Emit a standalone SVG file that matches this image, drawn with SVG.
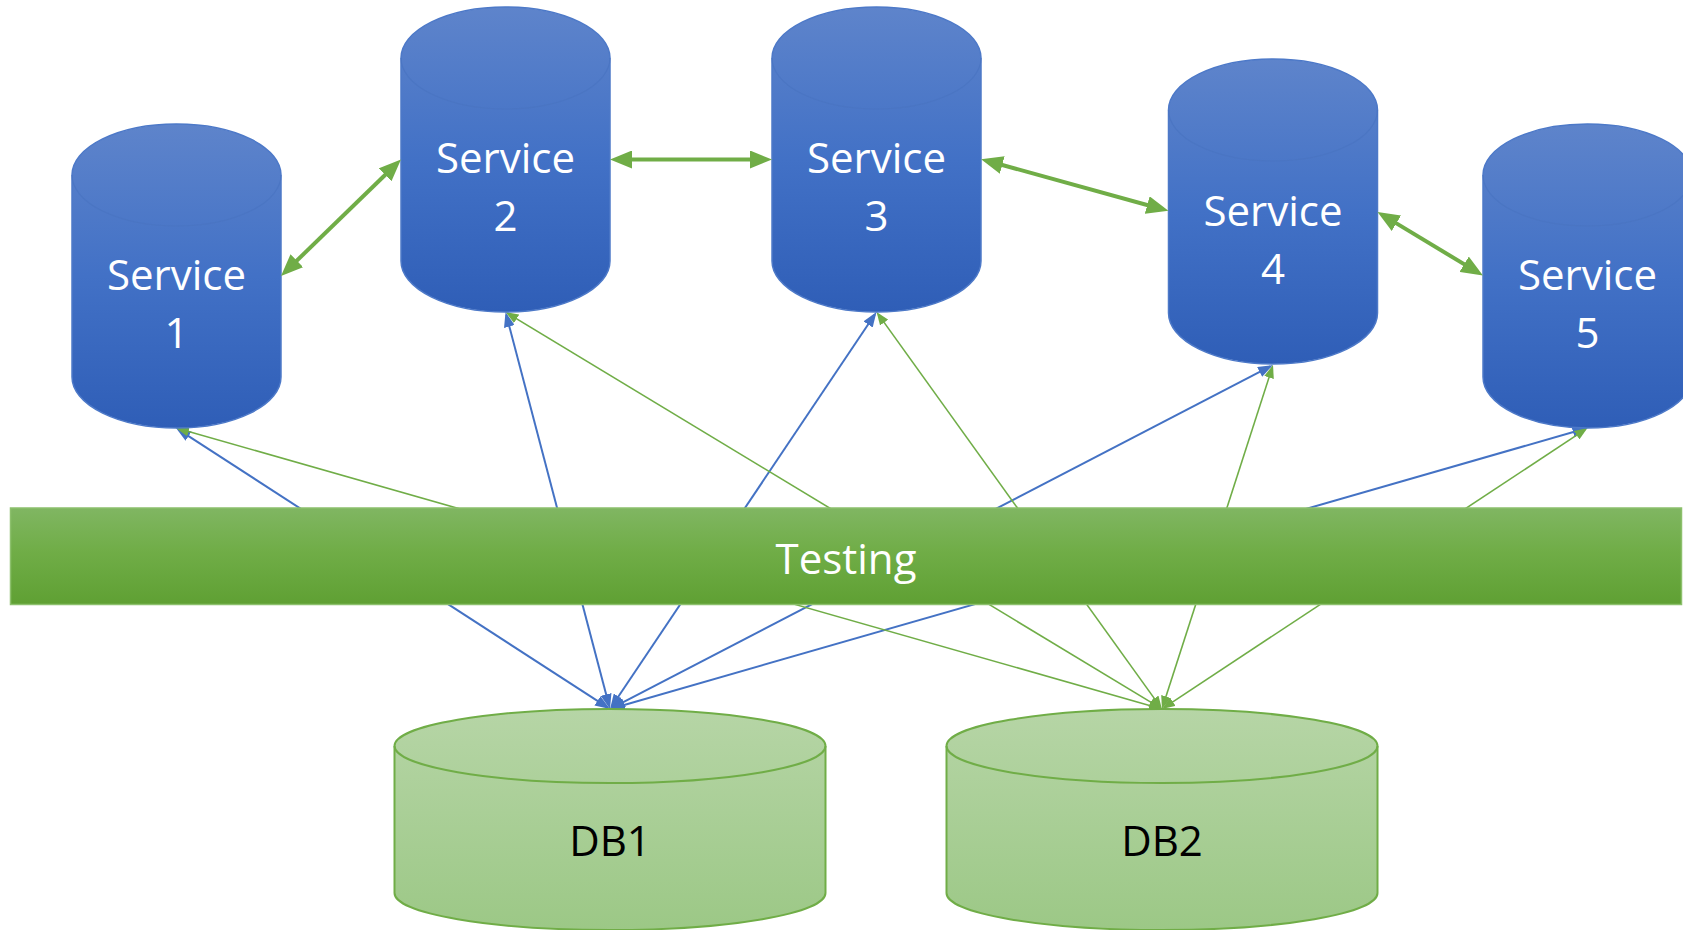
<svg xmlns="http://www.w3.org/2000/svg" width="1683" height="930" viewBox="0 0 1683 930">
  <defs>
    <linearGradient id="gSvc" x1="0" y1="0" x2="0" y2="1">
      <stop offset="0" stop-color="#5e84cb"/>
      <stop offset="0.5" stop-color="#4271c6"/>
      <stop offset="1" stop-color="#2f5eb7"/>
    </linearGradient>
    <linearGradient id="gDb" x1="0" y1="0" x2="0" y2="1">
      <stop offset="0" stop-color="#b6d5a6"/>
      <stop offset="1" stop-color="#9cc886"/>
    </linearGradient>
    <linearGradient id="gBar" x1="0" y1="0" x2="0" y2="1">
      <stop offset="0" stop-color="#80b662"/>
      <stop offset="0.45" stop-color="#70ad47"/>
      <stop offset="1" stop-color="#5fa033"/>
    </linearGradient>
    <marker id="headThick" markerUnits="userSpaceOnUse" markerWidth="22" markerHeight="18" viewBox="0 0 22 18" refX="12" refY="9" orient="auto-start-reverse">
      <path d="M0,0 L22,9 L0,18 Z" fill="#70ad47"/>
    </marker>
    <marker id="headBlue" markerUnits="userSpaceOnUse" markerWidth="15" markerHeight="11" viewBox="0 0 15 11" refX="12" refY="5.5" orient="auto-start-reverse">
      <path d="M0,0 L15,5.5 L0,11 Z" fill="#4472c4"/>
    </marker>
    <marker id="headGreen" markerUnits="userSpaceOnUse" markerWidth="13" markerHeight="10" viewBox="0 0 13 10" refX="10" refY="5" orient="auto-start-reverse">
      <path d="M0,0 L13,5 L0,10 Z" fill="#70ad47"/>
    </marker>
  </defs>
  <style>
    .svc-body { fill: url(#gSvc); stroke: #4d79c8; stroke-width: 1.5; }
    .svc-rim { fill: none; stroke: #4a74c2; stroke-width: 1.2; opacity: 0.8; }
    .db-body { fill: url(#gDb); stroke: #70ad47; stroke-width: 2; }
    .db-rim { fill: none; stroke: #70ad47; stroke-width: 2; }
    .bar { fill: url(#gBar); stroke: #8cc06c; stroke-width: 1.5; }
    .lbl { font-family: "Open Sans", "Liberation Sans", sans-serif; font-size: 42px; text-anchor: middle; }
    .lbl-w { fill: #ffffff; }
    .lbl-k { fill: #000000; }
    .link-blue { stroke: #4472c4; stroke-width: 2; fill: none; marker-start: url(#headBlue); marker-end: url(#headBlue); }
    .link-green { stroke: #70ad47; stroke-width: 1.6; fill: none; marker-start: url(#headGreen); marker-end: url(#headGreen); }
    .link-peer { stroke: #70ad47; stroke-width: 4; fill: none; marker-start: url(#headThick); marker-end: url(#headThick); }
  </style>

  <!-- connectors -->
  <g id="connectors">
    <!-- DB1 to each service -->
    <line class="link-blue" x1="607.5" y1="707.4" x2="178.5" y2="429.6"/>
    <line class="link-blue" x1="609.2" y1="706.1" x2="506.3" y2="314.9"/>
    <line class="link-blue" x1="611.7" y1="706.5" x2="874.8" y2="314.5"/>
    <line class="link-blue" x1="612.7" y1="707.6" x2="1270.3" y2="366.4"/>
    <line class="link-blue" x1="612.9" y1="708.2" x2="1584.6" y2="428.8"/>
    <!-- DB2 to each service -->
    <line class="link-green" x1="1159.1" y1="708.2" x2="178.9" y2="428.8"/>
    <line class="link-green" x1="1159.4" y1="707.4" x2="508.1" y2="313.6"/>
    <line class="link-green" x1="1160.2" y1="706.6" x2="878.3" y2="314.4"/>
    <line class="link-green" x1="1162.9" y1="706.1" x2="1272.1" y2="367.9"/>
    <line class="link-green" x1="1164.5" y1="707.3" x2="1585.0" y2="429.7"/>
  </g>

  <!-- services -->
  <g id="service1">
    <path class="svc-body" d="M72,175 L72,377 A104.5,51 0 0 0 281,377 L281,175 A104.5,51 0 0 0 72,175 Z"/>
    <path class="svc-rim" d="M72,175 A104.5,51 0 0 0 281,175"/>
    <text class="lbl lbl-w" x="176.5" y="290">Service</text>
    <text class="lbl lbl-w" x="176.5" y="348">1</text>
  </g>
  <g id="service2">
    <path class="svc-body" d="M401,58 L401,261 A104.5,51 0 0 0 610,261 L610,58 A104.5,51 0 0 0 401,58 Z"/>
    <path class="svc-rim" d="M401,58 A104.5,51 0 0 0 610,58"/>
    <text class="lbl lbl-w" x="505.5" y="173">Service</text>
    <text class="lbl lbl-w" x="505.5" y="231">2</text>
  </g>
  <g id="service3">
    <path class="svc-body" d="M772,58 L772,261 A104.5,51 0 0 0 981,261 L981,58 A104.5,51 0 0 0 772,58 Z"/>
    <path class="svc-rim" d="M772,58 A104.5,51 0 0 0 981,58"/>
    <text class="lbl lbl-w" x="876.5" y="173">Service</text>
    <text class="lbl lbl-w" x="876.5" y="231">3</text>
  </g>
  <g id="service4">
    <path class="svc-body" d="M1168.5,110 L1168.5,313 A104.5,51 0 0 0 1377.5,313 L1377.5,110 A104.5,51 0 0 0 1168.5,110 Z"/>
    <path class="svc-rim" d="M1168.5,110 A104.5,51 0 0 0 1377.5,110"/>
    <text class="lbl lbl-w" x="1273" y="225.5">Service</text>
    <text class="lbl lbl-w" x="1273" y="283.5">4</text>
  </g>
  <g id="service5">
    <path class="svc-body" d="M1483,175 L1483,377 A104.5,51 0 0 0 1692,377 L1692,175 A104.5,51 0 0 0 1483,175 Z"/>
    <path class="svc-rim" d="M1483,175 A104.5,51 0 0 0 1692,175"/>
    <text class="lbl lbl-w" x="1587.5" y="290">Service</text>
    <text class="lbl lbl-w" x="1587.5" y="348">5</text>
  </g>

  <!-- testing layer -->
  <g id="testing">
    <rect class="bar" x="10.5" y="508" width="1671" height="96.5"/>
    <text class="lbl lbl-w" x="846" y="574">Testing</text>
  </g>

  <!-- databases -->
  <g id="db1">
    <path class="db-body" d="M394.5,746 L394.5,893 A215.5,37 0 0 0 825.5,893 L825.5,746 A215.5,37 0 0 0 394.5,746 Z"/>
    <path class="db-rim" d="M394.5,746 A215.5,37 0 0 0 825.5,746"/>
    <text class="lbl lbl-k" x="610" y="856">DB1</text>
  </g>
  <g id="db2">
    <path class="db-body" d="M946.5,746 L946.5,893 A215.5,37 0 0 0 1377.5,893 L1377.5,746 A215.5,37 0 0 0 946.5,746 Z"/>
    <path class="db-rim" d="M946.5,746 A215.5,37 0 0 0 1377.5,746"/>
    <text class="lbl lbl-k" x="1162" y="856">DB2</text>
  </g>

  <!-- peer links between neighbouring services -->
  <g id="peer-links">
    <line class="link-peer" x1="288.2" y1="269.0" x2="393.8" y2="166.5"/>
    <line class="link-peer" x1="620" y1="159.5" x2="762" y2="159.5"/>
    <line class="link-peer" x1="990.7" y1="161.8" x2="1158.8" y2="208.2"/>
    <line class="link-peer" x1="1386.1" y1="217.1" x2="1474.4" y2="270.4"/>
  </g>
</svg>
